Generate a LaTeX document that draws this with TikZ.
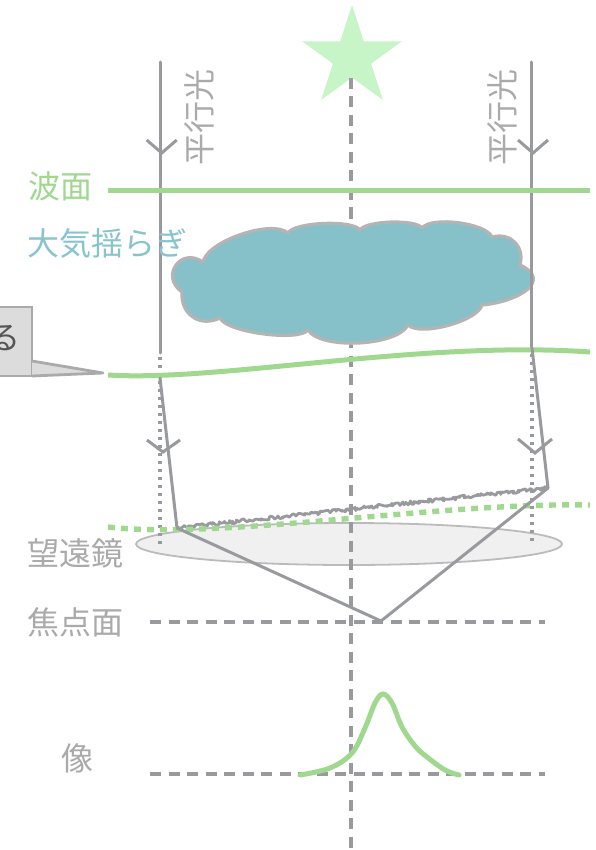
\documentclass[tikz,border=0pt]{standalone}
\usepackage{fontspec}
\newfontfamily\jp{Noto Sans CJK JP}
\usetikzlibrary{decorations.pathmorphing,shapes.geometric}
\definecolor{raygray}{HTML}{999A9E}
\definecolor{labelgray}{HTML}{AAAAAA}
\definecolor{wavegreen}{HTML}{A0D890}
\definecolor{stargreen}{HTML}{C8F5C8}
\definecolor{cloudteal}{HTML}{86C0C8}
\definecolor{cloudedge}{HTML}{B4B4B4}
\definecolor{tealtext}{HTML}{88C4CC}
\definecolor{lensfill}{HTML}{F0F0F0}
\definecolor{lensedge}{HTML}{BBBBBB}
\definecolor{calloutfill}{HTML}{DCDCDC}
\definecolor{calloutedge}{HTML}{AAAAAA}
\definecolor{callouttext}{HTML}{555555}

\begin{document}
\begin{tikzpicture}[x=1pt,y=-1pt,
  ray/.style={draw=raygray,line width=3,line cap=round,line join=round},
  chevron/.style={draw=raygray,line width=3},
  dotray/.style={draw=raygray,line width=3.2,dash pattern=on 3pt off 5pt},
  guide/.style={draw=raygray,line width=3.4,dash pattern=on 11pt off 7.5pt},
  wave/.style={draw=wavegreen,line width=5},
  label/.style={font=\jp\fontsize{32}{32}\selectfont,text=labelgray,inner sep=0},
  puff/.style={bend left=60,looseness=#1},
]
\useasboundingbox (0,0) rectangle (595,850);

% key points
\coordinate (topL) at (160,62);
\coordinate (topR) at (531,62);
\coordinate (endL) at (160,353);
\coordinate (endR) at (531,350);
\coordinate (hitL) at (160,378);
\coordinate (hitR) at (532,348);
\coordinate (lensL) at (177,528);
\coordinate (lensR) at (548,488);
\coordinate (focus) at (381,621);

% source star
\node[star,star points=5,star point ratio=2.618,minimum size=105pt,
      fill=stargreen,inner sep=0] (src) at (352,57.5) {};

% telescope aperture
\draw[fill=lensfill,draw=lensedge,line width=1.8] (349,544) ellipse [x radius=213,y radius=21];

% optical axis
\draw[guide] (351,78) -- (351,850);

% turbulent layer
\draw[fill=cloudteal,draw=cloudedge,line width=3.2,line join=round]
  (182,292) to[bend left=90,looseness=1.9] (203,262)
  to[puff=0.61] (288,233)
  to[puff=0.44] (360,230)
  to[puff=0.44] (422,228)
  to[puff=0.55] (492,237)
  to[puff=1.24] (520,265)
  to[out=-25,in=5,looseness=1.7] (482,305)
  to[puff=0.56] (408,325)
  to[puff=0.61] (308,330)
  to[puff=0.44] (220,318)
  to[puff=1.25] cycle;

% incoming parallel rays
\draw[ray] (topL) -- (endL);
\draw[ray] (topR) -- (endR);
\draw[chevron] (146.7,140) -- (161.7,153) -- (176.7,140);
\draw[chevron] (518,140) -- (533,153) -- (548,140);
\node[label,rotate=90] (parL) at (199,118) {平行光};
\node[label,rotate=90] (parR) at (502,118) {平行光};

% undisturbed paths
\draw[dotray] (160,357) -- (160,545);
\draw[dotray] (532,354) -- (532,545);

% flat wavefront
\draw[wave] (108,191) -- (590,191);
\node[label,text=wavegreen,anchor=west] (wf) at (28,186) {波面};
\node[label,text=tealtext,anchor=west] (turb) at (27,243) {大気揺らぎ};

% distorted wavefront
\draw[wave] (108,375) .. controls (220,382) and (420,340) .. (590,352);

% callout
\draw[fill=calloutfill,draw=calloutedge,line width=2.8] (-20,307) rectangle (32,376);
\draw[fill=calloutfill,draw=calloutedge,line width=2.8,line join=round]
  (32,361) -- (103,373) -- (32,376);
\node[font=\jp\fontsize{32}{32}\selectfont,text=callouttext,inner sep=0] (call) at (4,338) {る};

% refracted rays
\draw[ray] (hitL) -- (lensL);
\draw[ray] (hitR) -- (lensR);
\draw[chevron] (147,440) -- (163,452) -- (180,440);
\draw[chevron] (518,439) -- (535,453) -- (552,439);

% tilted wavefront at the aperture
\pgfmathsetseed{7}
\draw[raygray,line width=2.8,line join=round,decorate,
      decoration={random steps,segment length=1.6pt,amplitude=1.8pt}]
  (lensL) -- (lensR);
\draw[draw=wavegreen,line width=5.4,dash pattern=on 7pt off 6pt]
  (108,527) .. controls (220,540) and (440,502) .. (590,505);

% focusing
\draw[ray] (lensL) -- (focus) -- (lensR);

% focal plane and image
\draw[guide] (150,622) -- (545,622);
\draw[guide] (150,774) -- (545,774);
\draw[wave,line cap=round] plot[smooth,tension=0.6] coordinates
  {(300,775) (330,768) (352,753) (365,728) (375,703) (383,694) (392,703)
   (402,727) (415,746) (427,757) (445,770) (459,775)};

\node[label] (tel) at (75,553) {望遠鏡};
\node[label] (fp) at (75,622) {焦点面};
\node[label] (img) at (77,758) {像};
\end{tikzpicture}
\end{document}
